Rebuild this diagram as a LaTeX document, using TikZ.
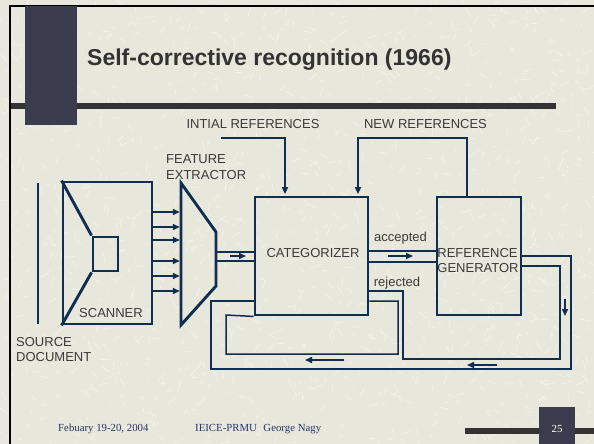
\documentclass[tikz,border=0pt]{standalone}
\usepackage{fontspec}
\setmainfont{Liberation Serif}
\newfontfamily\sansfont{Liberation Sans}
\usetikzlibrary{arrows.meta}

\definecolor{slidebg}{RGB}{231,231,219}
\definecolor{scratch}{RGB}{246,246,239}
\definecolor{navy}{RGB}{16,46,82}
\definecolor{labelgrey}{RGB}{58,58,58}
\definecolor{titlegrey}{RGB}{51,51,51}
\definecolor{barcol}{RGB}{51,51,51}
\definecolor{blockcol}{RGB}{59,61,79}
\definecolor{footcol}{RGB}{42,53,104}

\tikzset{
  boxline/.style={draw=navy, line width=2.9pt},
  box/.style={boxline, rectangle, inner sep=0pt},
  conn/.style={draw=navy, line width=1.5pt},
  tip/.style={-{Triangle[length=7pt,width=6pt]}},
  lbl/.style={font=\sansfont\fontsize{13}{15.5}\selectfont, text=labelgrey, inner sep=0pt},
  footer/.style={font=\fontsize{10.8}{12}\selectfont, text=footcol, inner sep=0pt},
}

\begin{document}
\begin{tikzpicture}[x=1pt,y=-1pt]
\useasboundingbox (0,0) rectangle (594,444);

% slide background with light scratch texture
\fill[slidebg] (0,0) rectangle (594,444);
\pgfmathsetseed{4711}
\foreach \i in {1,...,1400}{
  \pgfmathsetmacro{\tx}{rnd*594}
  \pgfmathsetmacro{\ty}{rnd*444}
  \pgfmathsetmacro{\ta}{rnd*360}
  \pgfmathsetmacro{\tl}{3+rnd*7}
  \draw[scratch, line width=0.6pt, opacity=0.8] (\tx,\ty) -- ++(\ta:\tl);
}

% frame, title bar and title
\draw[black, line width=2pt] (10,444) -- (10,6) -- (594,6);
\fill[barcol] (11,103) rectangle (556,109);
\fill[blockcol] (25,6) rectangle (77,125);
\node[anchor=base west, inner sep=0pt, text=titlegrey,
      font=\sansfont\bfseries\fontsize{23}{27}\selectfont] (title) at (87,66)
      {Self-corrective recognition (1966)};

% source document and scanner
\coordinate (doctop) at (38,183);
\coordinate (docbot) at (38,324);
\draw[boxline] (doctop) -- (docbot);
\node[lbl, align=left, anchor=west] (doclbl) at (16,349.5) {SOURCE\\DOCUMENT};

\node[box, minimum width=89pt, minimum height=142pt] (scan) at (107.5,253) {};
\node[box, minimum width=25pt, minimum height=34pt] (lens) at (105.5,254) {};
\draw[boxline] (scan.north west) -- (lens.north west);
\draw[boxline] (scan.south west) -- (lens.south west);
\node[lbl] (scanlbl) at (111,313) {SCANNER};

% feature extractor
\coordinate (fx1) at (181,183);
\coordinate (fx2) at (216,232);
\coordinate (fx3) at (216,286);
\coordinate (fx4) at (181,325);
\draw[boxline, line join=miter] (fx1) -- (fx2) -- (fx3) -- (fx4) -- cycle;
\node[lbl, align=left, anchor=west] (fxlbl) at (166,167) {FEATURE\\EXTRACTOR};

\foreach \y in {212,227,240,261,276,291}
  \draw[conn, tip] (scan.east |- 0,\y) -- ([xshift=-1.2pt]fx1 |- 0,\y);

% categorizer and reference generator
\node[box, minimum width=113pt, minimum height=118pt] (cat) at (311.5,256) {};
\node[lbl] (catlbl) at (313,253) {CATEGORIZER};
\node[box, minimum width=84pt, minimum height=118pt] (ref) at (479,256) {};
\node[lbl, align=left] (reflbl) at (478,260.5) {REFERENCE\\GENERATOR};

\draw[conn] (fx2 |- 0,252) -- (cat.west |- 0,252);
\draw[conn] (fx2 |- 0,261) -- (cat.west |- 0,261);
\coordinate (fxa) at (230,256);
\coordinate (fxb) at (246,256);
\draw[conn, tip] (fxa) -- (fxb);

% reference inputs
\node[lbl] (inref) at (253,124) {INTIAL REFERENCES};
\node[lbl] (newref) at (425.5,124) {NEW REFERENCES};
\coordinate (inrefstart) at (221,138);
\draw[conn, tip] (inrefstart) -| ([yshift=1.4pt]cat.north -| 285,0);
\coordinate (newrefturn) at (358,138);
\draw[conn, tip] (ref.north -| 467,0) |- (newrefturn) -- ([yshift=1.4pt]cat.north -| 358,0);

% accepted path
\node[lbl] (acclbl) at (400.5,238) {accepted};
\draw[conn] (cat.east |- 0,251) -- (ref.west |- 0,251);
\draw[conn] (cat.east |- 0,262) -- (ref.west |- 0,262);
\coordinate (acca) at (388,256);
\coordinate (accb) at (413,256);
\draw[conn, tip] (acca) -- (accb);

% rejected and feedback loops
\node[lbl] (rejlbl) at (397,283) {rejected};
\draw[conn] (ref.east |- 0,256) -- (571,256) -- (571,369) -- (211,369) -- (211,301)
            -- (cat.west |- 0,301);
\draw[conn] (ref.east |- 0,266) -- (560,266) -- (560,359) -- (403,359) -- (403,291)
            -- (cat.east |- 0,291);
\draw[conn] (cat.east |- 0,301) -- (398,301) -- (398,354) -- (226,354) -- (226,315)
            -- (cat.south west);

\coordinate (ra) at (565,299);
\coordinate (rb) at (565,316);
\draw[conn, tip] (ra) -- (rb);
\coordinate (ba) at (497,365);
\coordinate (bb) at (467,365);
\draw[conn, tip] (ba) -- (bb);
\coordinate (ia) at (344,360);
\coordinate (ib) at (305,360);
\draw[conn, tip] (ia) -- (ib);

% footer
\node[footer, anchor=west] (date) at (58,429) {Febuary 19-20, 2004};
\node[footer, anchor=west] (org) at (195,429) {IEICE-PRMU\hspace{0.6em}George Nagy};
\fill[barcol] (465,428) rectangle (594,434);
\fill[blockcol] (539,407) rectangle (575,444);
\node[footer, text=white] (page) at (557,429) {25};
\end{tikzpicture}
\end{document}
